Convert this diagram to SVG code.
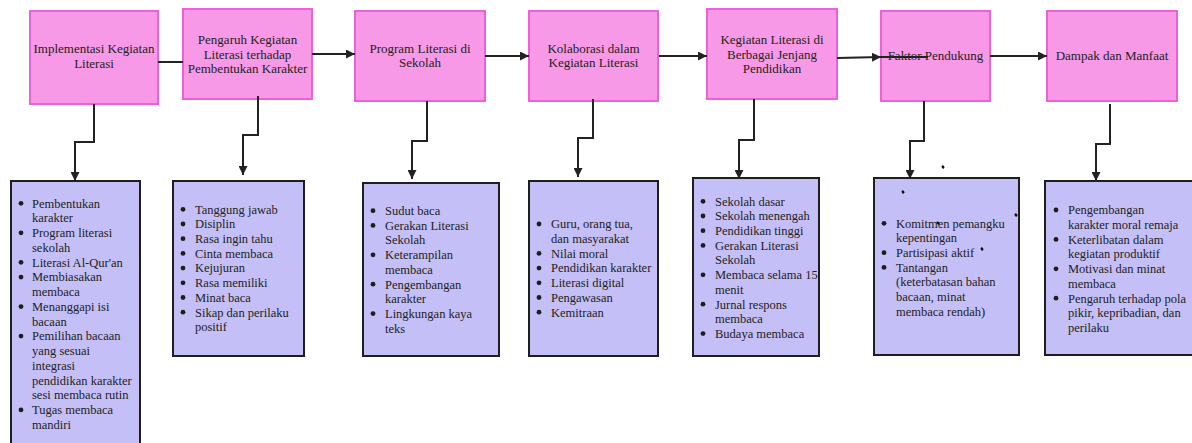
<svg xmlns="http://www.w3.org/2000/svg" width="1192" height="443" viewBox="0 0 1192 443">
<style>
.top{fill:#f799e6;stroke:#ee60d8;stroke-width:2}
.bot{fill:#c4bff7;stroke:#1e1e1e;stroke-width:2}
.tt{font-family:"Liberation Serif","DejaVu Serif",serif;font-size:13px;fill:#222;text-anchor:middle}
.bt{font-family:"Liberation Serif","DejaVu Serif",serif;font-size:12.5px;fill:#222}
.bul{fill:#1e1e1e}
.con{fill:none;stroke:#222;stroke-width:2}
.arr{marker-end:url(#ah)}
.dot{fill:#111}
</style>
<defs>
<marker id="ah" viewBox="0 0 10 10" refX="10" refY="5" markerWidth="9" markerHeight="9" markerUnits="userSpaceOnUse" orient="auto">
<path d="M0,0 L10,5 L0,10 z" fill="#222"/>
</marker>
</defs>
<rect width="1192" height="443" fill="#fff"/>

<g id="n1">
<rect class="top" x="30" y="11" width="128" height="93"/>
<text class="tt" x="94" y="53">Implementasi Kegiatan<tspan x="94" dy="15">Literasi</tspan></text>
</g>
<g id="n2">
<rect class="top" x="183" y="9" width="129" height="90"/>
<text class="tt" x="247.5" y="44">Pengaruh Kegiatan<tspan x="247.5" dy="14.5">Literasi terhadap</tspan><tspan x="247.5" dy="14.5">Pembentukan Karakter</tspan></text>
</g>
<g id="n3">
<rect class="top" x="355" y="11" width="130" height="90"/>
<text class="tt" x="420" y="53">Program Literasi di<tspan x="420" dy="14">Sekolah</tspan></text>
</g>
<g id="n4">
<rect class="top" x="529" y="11" width="129" height="90"/>
<text class="tt" x="593.5" y="53">Kolaborasi dalam<tspan x="593.5" dy="14">Kegiatan Literasi</tspan></text>
</g>
<g id="n5">
<rect class="top" x="707" y="9" width="130" height="90"/>
<text class="tt" x="772" y="44">Kegiatan Literasi di<tspan x="772" dy="14.5">Berbagai Jenjang</tspan><tspan x="772" dy="14.5">Pendidikan</tspan></text>
</g>
<g id="n6">
<rect class="top" x="881" y="11" width="109" height="90"/>
<text class="tt" x="935.5" y="60">Faktor Pendukung</text>
</g>
<g id="n7">
<rect class="top" x="1047" y="11" width="130" height="90"/>
<text class="tt" x="1112" y="60">Dampak dan Manfaat</text>
</g>

<g id="b1">
<rect class="bot" x="11" y="181" width="129" height="270"/>
<g class="bul"><circle cx="21" cy="203.3" r="2.4"/><circle cx="21" cy="232.8" r="2.4"/><circle cx="21" cy="262.3" r="2.4"/><circle cx="21" cy="277.1" r="2.4"/><circle cx="21" cy="306.6" r="2.4"/><circle cx="21" cy="336.1" r="2.4"/><circle cx="21" cy="409.9" r="2.4"/></g>
<text class="bt" x="32" y="207.6">Pembentukan<tspan x="32" dy="14.76">karakter</tspan><tspan x="32" dy="14.76">Program literasi</tspan><tspan x="32" dy="14.76">sekolah</tspan><tspan x="32" dy="14.76">Literasi Al-Qur'an</tspan><tspan x="32" dy="14.76">Membiasakan</tspan><tspan x="32" dy="14.76">membaca</tspan><tspan x="32" dy="14.76">Menanggapi isi</tspan><tspan x="32" dy="14.76">bacaan</tspan><tspan x="32" dy="14.76">Pemilihan bacaan</tspan><tspan x="32" dy="14.76">yang sesuai</tspan><tspan x="32" dy="14.76">integrasi</tspan><tspan x="32" dy="14.76">pendidikan karakter</tspan><tspan x="32" dy="14.76">sesi membaca rutin</tspan><tspan x="32" dy="14.76">Tugas membaca</tspan><tspan x="32" dy="14.76">mandiri</tspan></text>
</g>
<g id="b2">
<rect class="bot" x="173" y="181" width="131" height="175"/>
<g class="bul"><circle cx="183" cy="209.3" r="2.4"/><circle cx="183" cy="224" r="2.4"/><circle cx="183" cy="238.7" r="2.4"/><circle cx="183" cy="253.4" r="2.4"/><circle cx="183" cy="268.1" r="2.4"/><circle cx="183" cy="282.8" r="2.4"/><circle cx="183" cy="297.5" r="2.4"/><circle cx="183" cy="312.2" r="2.4"/></g>
<text class="bt" x="195" y="213.6">Tanggung jawab<tspan x="195" dy="14.7">Disiplin</tspan><tspan x="195" dy="14.7">Rasa ingin tahu</tspan><tspan x="195" dy="14.7">Cinta membaca</tspan><tspan x="195" dy="14.7">Kejujuran</tspan><tspan x="195" dy="14.7">Rasa memiliki</tspan><tspan x="195" dy="14.7">Minat baca</tspan><tspan x="195" dy="14.7">Sikap dan perilaku</tspan><tspan x="195" dy="14.7">positif</tspan></text>
</g>
<g id="b3">
<rect class="bot" x="363" y="183" width="136" height="173"/>
<g class="bul"><circle cx="373" cy="210.7" r="2.4"/><circle cx="373" cy="225.4" r="2.4"/><circle cx="373" cy="254.8" r="2.4"/><circle cx="373" cy="284.2" r="2.4"/><circle cx="373" cy="313.6" r="2.4"/></g>
<text class="bt" x="385" y="215">Sudut baca<tspan x="385" dy="14.7">Gerakan Literasi</tspan><tspan x="385" dy="14.7">Sekolah</tspan><tspan x="385" dy="14.7">Keterampilan</tspan><tspan x="385" dy="14.7">membaca</tspan><tspan x="385" dy="14.7">Pengembangan</tspan><tspan x="385" dy="14.7">karakter</tspan><tspan x="385" dy="14.7">Lingkungan kaya</tspan><tspan x="385" dy="14.7">teks</tspan></text>
</g>
<g id="b4">
<rect class="bot" x="529" y="181" width="129" height="175"/>
<g class="bul"><circle cx="539" cy="224" r="2.4"/><circle cx="539" cy="253.4" r="2.4"/><circle cx="539" cy="268.1" r="2.4"/><circle cx="539" cy="282.8" r="2.4"/><circle cx="539" cy="297.5" r="2.4"/><circle cx="539" cy="312.2" r="2.4"/></g>
<text class="bt" x="551" y="228.3">Guru, orang tua,<tspan x="551" dy="14.7">dan masyarakat</tspan><tspan x="551" dy="14.7">Nilai moral</tspan><tspan x="551" dy="14.7">Pendidikan karakter</tspan><tspan x="551" dy="14.7">Literasi digital</tspan><tspan x="551" dy="14.7">Pengawasan</tspan><tspan x="551" dy="14.7">Kemitraan</tspan></text>
</g>
<g id="b5">
<rect class="bot" x="693" y="178" width="126" height="178"/>
<g class="bul"><circle cx="703" cy="201.3" r="2.4"/><circle cx="703" cy="216" r="2.4"/><circle cx="703" cy="230.7" r="2.4"/><circle cx="703" cy="245.4" r="2.4"/><circle cx="703" cy="274.8" r="2.4"/><circle cx="703" cy="304.2" r="2.4"/><circle cx="703" cy="333.6" r="2.4"/></g>
<text class="bt" x="715" y="205.6">Sekolah dasar<tspan x="715" dy="14.7">Sekolah menengah</tspan><tspan x="715" dy="14.7">Pendidikan tinggi</tspan><tspan x="715" dy="14.7">Gerakan Literasi</tspan><tspan x="715" dy="14.7">Sekolah</tspan><tspan x="715" dy="14.7">Membaca selama 15</tspan><tspan x="715" dy="14.7">menit</tspan><tspan x="715" dy="14.7">Jurnal respons</tspan><tspan x="715" dy="14.7">membaca</tspan><tspan x="715" dy="14.7">Budaya membaca</tspan></text>
</g>
<g id="b6">
<rect class="bot" x="874" y="178" width="145" height="177"/>
<g class="bul"><circle cx="884" cy="223.3" r="2.4"/><circle cx="884" cy="252.7" r="2.4"/><circle cx="884" cy="267.4" r="2.4"/></g>
<text class="bt" x="896" y="227.6">Komitmen pemangku<tspan x="896" dy="14.7">kepentingan</tspan><tspan x="896" dy="14.7">Partisipasi aktif</tspan><tspan x="896" dy="14.7">Tantangan</tspan><tspan x="896" dy="14.7">(keterbatasan bahan</tspan><tspan x="896" dy="14.7">bacaan, minat</tspan><tspan x="896" dy="14.7">membaca rendah)</tspan></text>
<g class="dot">
<ellipse cx="943" cy="167" rx="1.3" ry="1.8" transform="rotate(-30 943 167)"/>
<ellipse cx="903" cy="192" rx="1.3" ry="1.8" transform="rotate(-30 903 192)"/>
<ellipse cx="1016" cy="215" rx="1.3" ry="1.8" transform="rotate(-30 1016 215)"/>
<ellipse cx="982" cy="249" rx="1.3" ry="1.8" transform="rotate(-30 982 249)"/>
<ellipse cx="938" cy="223" rx="1.3" ry="1.8" transform="rotate(-50 938 223)"/>
</g>
</g>
<g id="b7">
<rect class="bot" x="1045" y="181" width="160" height="174"/>
<g class="bul"><circle cx="1056" cy="210" r="2.4"/><circle cx="1056" cy="239.4" r="2.4"/><circle cx="1056" cy="268.8" r="2.4"/><circle cx="1056" cy="298.2" r="2.4"/></g>
<text class="bt" x="1068" y="214.3">Pengembangan<tspan x="1068" dy="14.7">karakter moral remaja</tspan><tspan x="1068" dy="14.7">Keterlibatan dalam</tspan><tspan x="1068" dy="14.7">kegiatan produktif</tspan><tspan x="1068" dy="14.7">Motivasi dan minat</tspan><tspan x="1068" dy="14.7">membaca</tspan><tspan x="1068" dy="14.7">Pengaruh terhadap pola</tspan><tspan x="1068" dy="14.7">pikir, kepribadian, dan</tspan><tspan x="1068" dy="14.7">perilaku</tspan></text>
</g>

<g id="connectors">
<path class="con" d="M158,62 L183,62"/>
<path class="con arr" d="M312,54 L355,54"/>
<path class="con arr" d="M485,56 L529,56"/>
<path class="con arr" d="M659,56 L707,56"/>
<path class="con arr" d="M837,58 L881,57"/>
<path class="con" d="M881,57 L928,57"/>
<path class="con arr" d="M990,56 L1047,56"/>
<path class="con arr" d="M94,104 L94,142 L75,142 L75,181"/>
<path class="con arr" d="M258,96 L258,135 L243,135 L243,175"/>
<path class="con arr" d="M427,101 L427,141 L412,141 L412,179"/>
<path class="con arr" d="M593,99 L593,138 L578,138 L578,177"/>
<path class="con arr" d="M754,99 L754,140 L739,140 L739,179"/>
<path class="con arr" d="M924,101 L924,141 L910,141 L910,179"/>
<path class="con arr" d="M1110,104 L1110,144 L1096,144 L1096,181"/>
</g>
</svg>
